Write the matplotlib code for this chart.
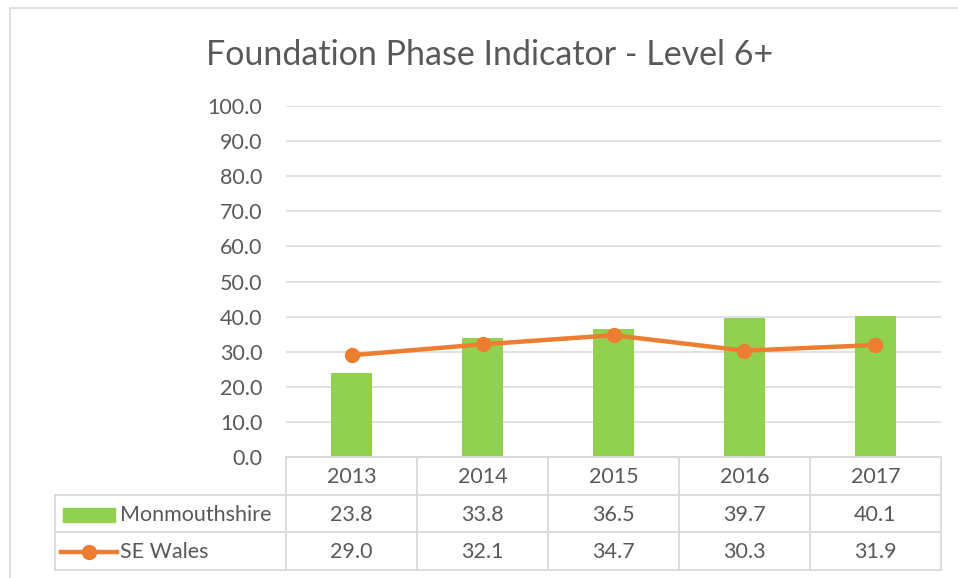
import matplotlib.pyplot as plt
from matplotlib.patches import Rectangle
from matplotlib.lines import Line2D

years = ["2013", "2014", "2015", "2016", "2017"]
monmouthshire = [23.8, 33.8, 36.5, 39.7, 40.1]
se_wales = [29.0, 32.1, 34.7, 30.3, 31.9]
series_names = ["Monmouthshire", "SE Wales"]

GREEN = "#92D050"
ORANGE = "#ED7D31"
GRID = "#D9D9D9"
TEXT = "#595959"
FS = 15.5

plt.rcParams["font.family"] = ["Lato", "DejaVu Sans"]

W, H = 958, 578
fig = plt.figure(figsize=(W / 100, H / 100), dpi=100)


def px_axes(x0, y0, x1, y1):
    # pixel box (top-left origin) -> figure axes
    return fig.add_axes([x0 / W, 1 - y1 / H, (x1 - x0) / W, (y1 - y0) / H])


# outer chart border
fig.add_artist(Rectangle((10 / W, -0.1), 1.2, 1 - 8 / H + 0.1, transform=fig.transFigure,
                         fill=False, ec=GRID, lw=1.2))

fig.text(490 / W, 1 - 55 / H, "Foundation Phase Indicator - Level 6+", ha="center", va="center",
         fontsize=24.5, color=TEXT)

ax = px_axes(286, 106, 941, 457)
x = list(range(len(years)))
ax.bar(x, monmouthshire, width=0.31, color=GREEN, zorder=2)
ax.plot(x, se_wales, color=ORANGE, lw=3.2, marker="o", markersize=10, zorder=3)
ax.set_xlim(-0.5, len(years) - 0.5)
ax.set_ylim(0, 100)
ax.set_yticks(range(0, 101, 10))
ax.set_yticklabels([f"{v:.1f}" for v in range(0, 101, 10)])
ax.grid(axis="y", color=GRID, lw=1.1, zorder=0)
ax.set_xticks([])
for s in ax.spines.values():
    s.set_visible(False)
ax.tick_params(axis="y", length=0, pad=17, labelsize=FS, labelcolor=TEXT)

# data table below the plot, same x scale as the chart
per = 655 / len(years)
left_units = (286 - 55) / per
tb = px_axes(55, 457, 941, 570)
tb.set_xlim(-0.5 - left_units, len(years) - 0.5)
tb.set_ylim(3, 0)
tb.axis("off")

lw = 1.3
for i in range(len(years) + 1):
    tb.plot([i - 0.5, i - 0.5], [0, 3], color=GRID, lw=lw, clip_on=False)
tb.plot([-0.5, len(years) - 0.5], [0, 0], color=GRID, lw=lw, clip_on=False)
for r in (1, 2, 3):
    tb.plot([-0.5 - left_units, len(years) - 0.5], [r, r], color=GRID, lw=lw, clip_on=False)
tb.plot([-0.5 - left_units] * 2, [1, 3], color=GRID, lw=lw, clip_on=False)

row_y = [(457 + 497) / 2, (497 + 533) / 2, (533 + 570) / 2]
row_y = [(v - 457) / (570 - 457) * 3 for v in row_y]

for i, yr in enumerate(years):
    tb.text(i, row_y[0], yr, ha="center", va="center", fontsize=FS, color=TEXT)
    tb.text(i, row_y[1], f"{monmouthshire[i]:.1f}", ha="center", va="center", fontsize=FS, color=TEXT)
    tb.text(i, row_y[2], f"{se_wales[i]:.1f}", ha="center", va="center", fontsize=FS, color=TEXT)

# legend keys in the row header cells
x0 = -0.5 - left_units
u = 1 / per
tb.add_patch(Rectangle((x0 + 8 * u, row_y[1] - 0.19), 52 * u, 0.38, color=GREEN, clip_on=False))
tb.add_line(Line2D([x0 + 6 * u, x0 + 62 * u], [row_y[2], row_y[2]], color=ORANGE, lw=3.2,
                   clip_on=False))
tb.add_line(Line2D([x0 + 34 * u], [row_y[2]], color=ORANGE, marker="o", markersize=10,
                   clip_on=False))
tb.text(x0 + 65 * u, row_y[1], series_names[0], ha="left", va="center", fontsize=FS, color=TEXT)
tb.text(x0 + 65 * u, row_y[2], series_names[1], ha="left", va="center", fontsize=FS, color=TEXT)

fig.savefig("out.png", dpi=100)
